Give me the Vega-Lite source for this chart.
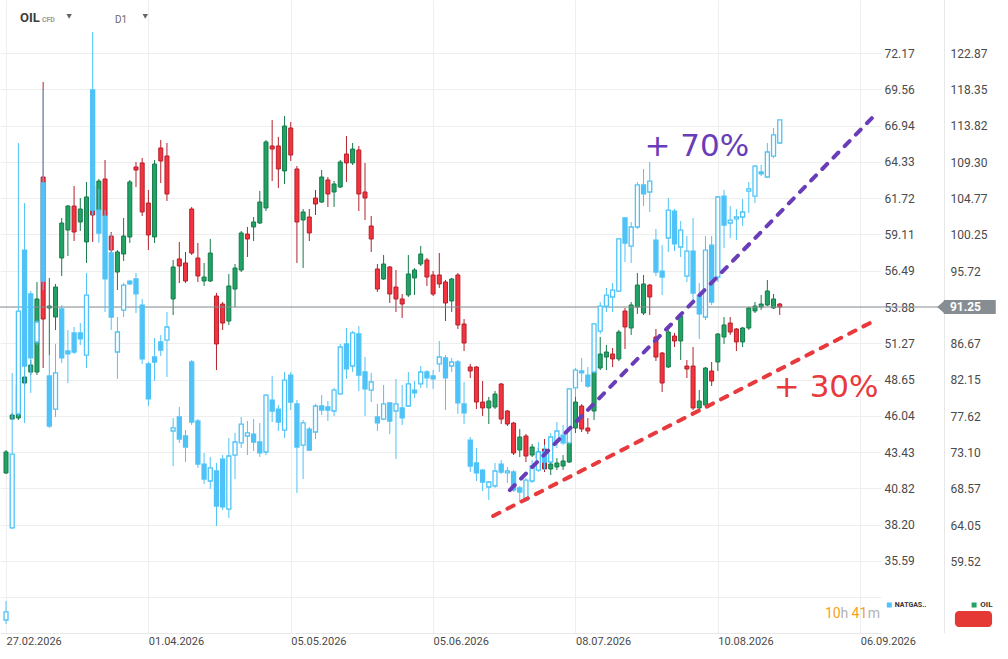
{
  "$schema": "https://vega.github.io/schema/vega-lite/v6.json",
  "width": 881,
  "height": 633,
  "autosize": {"type": "none"},
  "padding": {"left": 0, "top": 0, "right": 127, "bottom": 26},
  "background": "#ffffff",
  "config": {
    "view": {"stroke": null},
    "font": "Roboto",
    "axis": {"labelFont": "Roboto", "labelColor": "#4a4a4a", "title": null}
  },
  "datasets": {
    "oil": [
      {"t":0,"o":70.55,"h":73.42,"l":70.43,"c":73.17},
      {"t":1,"o":77.28,"h":78.03,"l":77.16,"c":77.78},
      {"t":2,"o":77.41,"h":82.15,"l":77.16,"c":81.52},
      {"t":3,"o":81.77,"h":83.39,"l":81.52,"c":82.52},
      {"t":4,"o":83.14,"h":84.64,"l":82.77,"c":84.02},
      {"t":5,"o":83.14,"h":94.37,"l":82.77,"c":92.25},
      {"t":6,"o":107.46,"h":119.31,"l":83.64,"c":89.75},
      {"t":7,"o":91.13,"h":94.87,"l":85.26,"c":91.37},
      {"t":8,"o":90.00,"h":94.12,"l":88.38,"c":93.74},
      {"t":9,"o":97.36,"h":102.35,"l":95.12,"c":101.72},
      {"t":10,"o":100.85,"h":103.97,"l":97.61,"c":103.84},
      {"t":11,"o":103.84,"h":106.34,"l":99.48,"c":100.60},
      {"t":12,"o":101.85,"h":104.84,"l":100.73,"c":103.47},
      {"t":13,"o":99.36,"h":106.84,"l":96.74,"c":104.97},
      {"t":14,"o":106.46,"h":108.33,"l":99.36,"c":102.72},
      {"t":15,"o":103.35,"h":107.21,"l":103.10,"c":106.96},
      {"t":16,"o":107.21,"h":109.58,"l":100.60,"c":102.60},
      {"t":17,"o":100.10,"h":100.60,"l":94.37,"c":98.36},
      {"t":18,"o":95.61,"h":98.36,"l":93.37,"c":98.11},
      {"t":19,"o":97.86,"h":102.35,"l":96.99,"c":100.10},
      {"t":20,"o":99.98,"h":107.09,"l":99.23,"c":106.84},
      {"t":21,"o":108.71,"h":109.33,"l":106.21,"c":108.33},
      {"t":22,"o":109.21,"h":109.83,"l":102.60,"c":103.10},
      {"t":23,"o":104.22,"h":105.84,"l":98.36,"c":100.23},
      {"t":24,"o":99.98,"h":109.58,"l":99.23,"c":109.08},
      {"t":25,"o":111.08,"h":112.07,"l":106.71,"c":109.46},
      {"t":26,"o":110.08,"h":111.70,"l":104.47,"c":105.34},
      {"t":27,"o":92.25,"h":97.11,"l":90.25,"c":96.24},
      {"t":28,"o":97.24,"h":99.36,"l":94.24,"c":96.36},
      {"t":29,"o":96.74,"h":98.11,"l":94.24,"c":94.49},
      {"t":30,"o":103.47,"h":103.72,"l":97.73,"c":97.98},
      {"t":31,"o":97.36,"h":99.23,"l":94.37,"c":95.12},
      {"t":32,"o":94.49,"h":96.74,"l":93.87,"c":94.99},
      {"t":33,"o":94.49,"h":99.73,"l":94.37,"c":97.98},
      {"t":34,"o":92.62,"h":93.00,"l":83.39,"c":86.64},
      {"t":35,"o":91.62,"h":91.87,"l":88.38,"c":89.25},
      {"t":36,"o":89.50,"h":95.37,"l":89.01,"c":93.87},
      {"t":37,"o":93.49,"h":96.61,"l":91.25,"c":96.11},
      {"t":38,"o":95.86,"h":100.73,"l":95.61,"c":100.48},
      {"t":39,"o":100.35,"h":101.23,"l":97.49,"c":99.73},
      {"t":40,"o":101.23,"h":102.47,"l":99.48,"c":101.85},
      {"t":41,"o":101.72,"h":105.72,"l":101.60,"c":104.34},
      {"t":42,"o":103.60,"h":112.07,"l":103.22,"c":111.83},
      {"t":43,"o":111.33,"h":114.57,"l":106.96,"c":110.95},
      {"t":44,"o":111.33,"h":112.45,"l":106.09,"c":108.46},
      {"t":45,"o":108.21,"h":115.07,"l":106.59,"c":113.82},
      {"t":46,"o":113.57,"h":114.32,"l":109.46,"c":110.20},
      {"t":47,"o":108.46,"h":108.83,"l":96.74,"c":101.85},
      {"t":48,"o":102.10,"h":103.47,"l":96.11,"c":103.10},
      {"t":49,"o":102.47,"h":103.47,"l":99.48,"c":100.48},
      {"t":50,"o":104.84,"h":105.84,"l":102.72,"c":104.09},
      {"t":51,"o":104.34,"h":108.33,"l":104.22,"c":107.46},
      {"t":52,"o":107.09,"h":107.46,"l":103.72,"c":105.34},
      {"t":53,"o":105.59,"h":106.96,"l":103.72,"c":106.59},
      {"t":54,"o":106.21,"h":109.58,"l":106.09,"c":109.33},
      {"t":55,"o":110.33,"h":112.57,"l":106.84,"c":109.21},
      {"t":56,"o":109.21,"h":111.70,"l":108.96,"c":110.95},
      {"t":57,"o":110.83,"h":111.33,"l":103.22,"c":105.34},
      {"t":58,"o":105.59,"h":109.21,"l":102.10,"c":104.84},
      {"t":59,"o":101.35,"h":102.60,"l":98.11,"c":99.73},
      {"t":60,"o":95.99,"h":96.61,"l":93.12,"c":93.49},
      {"t":61,"o":94.74,"h":97.73,"l":94.62,"c":96.61},
      {"t":62,"o":96.24,"h":96.36,"l":91.75,"c":92.87},
      {"t":63,"o":93.74,"h":95.86,"l":90.63,"c":92.25},
      {"t":64,"o":92.25,"h":92.87,"l":89.88,"c":91.62},
      {"t":65,"o":92.75,"h":97.73,"l":92.50,"c":95.37},
      {"t":66,"o":94.87,"h":96.11,"l":92.75,"c":95.86},
      {"t":67,"o":96.61,"h":98.86,"l":96.36,"c":97.86},
      {"t":68,"o":97.11,"h":97.36,"l":93.87,"c":94.99},
      {"t":69,"o":95.24,"h":95.74,"l":92.62,"c":92.87},
      {"t":70,"o":95.24,"h":97.98,"l":93.62,"c":94.12},
      {"t":71,"o":94.37,"h":94.62,"l":89.50,"c":91.75},
      {"t":72,"o":92.00,"h":94.87,"l":90.63,"c":94.74},
      {"t":73,"o":95.24,"h":95.49,"l":88.51,"c":89.01},
      {"t":74,"o":89.13,"h":89.75,"l":85.76,"c":86.76},
      {"t":75,"o":83.77,"h":84.14,"l":82.40,"c":83.27},
      {"t":76,"o":83.77,"h":83.89,"l":78.53,"c":79.40},
      {"t":77,"o":79.40,"h":82.02,"l":77.66,"c":78.66},
      {"t":78,"o":78.66,"h":80.03,"l":76.66,"c":79.53},
      {"t":79,"o":78.78,"h":80.78,"l":78.53,"c":80.40},
      {"t":80,"o":81.65,"h":81.77,"l":76.66,"c":77.28},
      {"t":81,"o":78.28,"h":78.41,"l":76.41,"c":76.66},
      {"t":82,"o":76.78,"h":76.91,"l":72.79,"c":73.04},
      {"t":83,"o":73.42,"h":76.04,"l":72.54,"c":75.04},
      {"t":84,"o":75.16,"h":75.41,"l":71.92,"c":72.67},
      {"t":85,"o":72.79,"h":74.17,"l":72.54,"c":73.79},
      {"t":86,"o":72.42,"h":73.67,"l":72.17,"c":73.17},
      {"t":87,"o":73.54,"h":74.79,"l":70.67,"c":71.05},
      {"t":88,"o":71.05,"h":72.42,"l":70.30,"c":71.67},
      {"t":89,"o":71.30,"h":72.42,"l":70.92,"c":71.80},
      {"t":90,"o":71.42,"h":72.79,"l":70.92,"c":72.05},
      {"t":91,"o":71.92,"h":74.67,"l":71.80,"c":74.42},
      {"t":92,"o":76.16,"h":80.03,"l":75.54,"c":79.40},
      {"t":93,"o":78.90,"h":79.15,"l":75.66,"c":76.04},
      {"t":94,"o":76.16,"h":77.41,"l":75.41,"c":75.79},
      {"t":95,"o":78.28,"h":83.89,"l":77.16,"c":83.14},
      {"t":96,"o":83.64,"h":87.51,"l":83.39,"c":85.39},
      {"t":97,"o":85.01,"h":86.51,"l":83.39,"c":85.64},
      {"t":98,"o":85.39,"h":86.14,"l":83.77,"c":84.77},
      {"t":99,"o":84.77,"h":88.38,"l":84.52,"c":88.13},
      {"t":100,"o":90.75,"h":91.13,"l":86.01,"c":88.76},
      {"t":101,"o":88.63,"h":91.87,"l":87.76,"c":91.50},
      {"t":102,"o":91.25,"h":95.49,"l":90.38,"c":93.99},
      {"t":103,"o":90.50,"h":95.24,"l":90.25,"c":94.12},
      {"t":104,"o":93.99,"h":94.12,"l":90.25,"c":92.50},
      {"t":105,"o":87.51,"h":88.51,"l":84.52,"c":85.01},
      {"t":106,"o":85.51,"h":85.64,"l":80.65,"c":81.77},
      {"t":107,"o":83.77,"h":88.38,"l":83.64,"c":88.13},
      {"t":108,"o":87.63,"h":88.01,"l":86.26,"c":87.01},
      {"t":109,"o":87.01,"h":90.25,"l":84.64,"c":90.13},
      {"t":110,"o":83.89,"h":84.64,"l":82.40,"c":83.52},
      {"t":111,"o":83.89,"h":86.26,"l":78.41,"c":78.66},
      {"t":112,"o":78.66,"h":80.90,"l":78.41,"c":79.53},
      {"t":113,"o":79.03,"h":83.77,"l":78.78,"c":83.64},
      {"t":114,"o":83.27,"h":84.39,"l":81.40,"c":82.02},
      {"t":115,"o":84.39,"h":88.01,"l":83.27,"c":87.88},
      {"t":116,"o":87.51,"h":90.00,"l":86.64,"c":89.01},
      {"t":117,"o":89.25,"h":90.00,"l":87.76,"c":88.13},
      {"t":118,"o":88.51,"h":88.63,"l":85.76,"c":86.89},
      {"t":119,"o":86.89,"h":88.76,"l":86.26,"c":88.63},
      {"t":120,"o":88.63,"h":91.25,"l":88.38,"c":91.13},
      {"t":121,"o":90.75,"h":91.87,"l":90.50,"c":91.37},
      {"t":122,"o":91.25,"h":92.75,"l":90.88,"c":91.62},
      {"t":123,"o":91.50,"h":94.62,"l":91.37,"c":93.25},
      {"t":124,"o":91.13,"h":92.87,"l":91.00,"c":92.25},
      {"t":125,"o":91.62,"h":91.75,"l":90.25,"c":91.25}
    ],
    "gas": [
      {"t":0,"o":31.34,"h":32.71,"l":31.05,"c":31.92},
      {"t":1,"o":37.97,"h":49.13,"l":37.89,"c":43.29},
      {"t":2,"o":46.18,"h":65.69,"l":46.03,"c":53.59},
      {"t":3,"o":57.98,"h":61.37,"l":45.53,"c":49.63},
      {"t":4,"o":54.82,"h":55.03,"l":47.69,"c":50.21},
      {"t":5,"o":51.36,"h":52.94,"l":51.14,"c":52.80},
      {"t":6,"o":62.81,"h":69.51,"l":55.10,"c":55.75},
      {"t":7,"o":48.91,"h":50.42,"l":45.17,"c":45.31},
      {"t":8,"o":46.53,"h":51.22,"l":45.96,"c":49.13},
      {"t":9,"o":53.74,"h":54.02,"l":49.85,"c":50.21},
      {"t":10,"o":50.71,"h":52.22,"l":48.41,"c":50.50},
      {"t":11,"o":52.01,"h":52.44,"l":50.50,"c":50.64},
      {"t":12,"o":52.01,"h":52.73,"l":51.14,"c":51.58},
      {"t":13,"o":50.42,"h":56.33,"l":49.49,"c":54.74},
      {"t":14,"o":69.51,"h":73.68,"l":60.50,"c":60.86},
      {"t":15,"o":60.86,"h":62.38,"l":58.49,"c":59.21},
      {"t":16,"o":60.43,"h":60.86,"l":53.52,"c":55.90},
      {"t":17,"o":57.77,"h":59.21,"l":52.22,"c":53.16},
      {"t":18,"o":50.64,"h":53.16,"l":48.70,"c":52.08},
      {"t":19,"o":53.66,"h":55.61,"l":53.16,"c":55.46},
      {"t":20,"o":55.75,"h":55.82,"l":55.46,"c":55.54},
      {"t":21,"o":55.90,"h":56.33,"l":53.45,"c":54.82},
      {"t":22,"o":54.02,"h":54.46,"l":49.78,"c":50.14},
      {"t":23,"o":49.78,"h":49.92,"l":46.75,"c":47.26},
      {"t":24,"o":50.28,"h":51.65,"l":48.55,"c":49.92},
      {"t":25,"o":51.36,"h":51.86,"l":50.35,"c":50.78},
      {"t":26,"o":51.50,"h":53.52,"l":48.84,"c":52.44},
      {"t":27,"o":44.95,"h":45.89,"l":42.43,"c":45.17},
      {"t":28,"o":45.96,"h":46.68,"l":44.09,"c":44.37},
      {"t":29,"o":44.59,"h":45.02,"l":42.72,"c":43.80},
      {"t":30,"o":49.92,"h":50.06,"l":45.38,"c":45.60},
      {"t":31,"o":45.67,"h":45.81,"l":42.29,"c":42.57},
      {"t":32,"o":42.57,"h":43.37,"l":41.13,"c":41.49},
      {"t":33,"o":41.35,"h":43.08,"l":40.77,"c":42.29},
      {"t":34,"o":42.07,"h":42.65,"l":38.11,"c":39.55},
      {"t":35,"o":42.93,"h":43.22,"l":39.26,"c":39.48},
      {"t":36,"o":39.33,"h":44.45,"l":38.69,"c":43.15},
      {"t":37,"o":43.22,"h":44.81,"l":41.49,"c":44.16},
      {"t":38,"o":44.09,"h":45.96,"l":43.73,"c":45.45},
      {"t":39,"o":44.59,"h":45.67,"l":43.22,"c":44.81},
      {"t":40,"o":44.73,"h":45.81,"l":43.51,"c":44.16},
      {"t":41,"o":44.16,"h":45.53,"l":43.08,"c":43.37},
      {"t":42,"o":43.44,"h":47.61,"l":43.22,"c":47.54},
      {"t":43,"o":47.18,"h":48.91,"l":45.60,"c":46.39},
      {"t":44,"o":46.53,"h":46.82,"l":44.95,"c":45.60},
      {"t":45,"o":45.02,"h":49.20,"l":44.45,"c":48.62},
      {"t":46,"o":48.98,"h":49.20,"l":46.46,"c":47.04},
      {"t":47,"o":46.90,"h":47.18,"l":40.49,"c":43.80},
      {"t":48,"o":43.94,"h":45.74,"l":41.49,"c":45.53},
      {"t":49,"o":45.09,"h":45.24,"l":43.51,"c":43.58},
      {"t":50,"o":44.88,"h":46.90,"l":44.37,"c":46.75},
      {"t":51,"o":46.75,"h":47.54,"l":46.10,"c":46.46},
      {"t":52,"o":46.68,"h":47.11,"l":45.67,"c":46.46},
      {"t":53,"o":46.39,"h":48.05,"l":46.03,"c":47.90},
      {"t":54,"o":47.62,"h":51.22,"l":47.54,"c":51.00},
      {"t":55,"o":51.22,"h":52.37,"l":48.70,"c":49.42},
      {"t":56,"o":49.63,"h":52.15,"l":49.20,"c":52.01},
      {"t":57,"o":51.94,"h":52.51,"l":47.83,"c":48.98},
      {"t":58,"o":49.20,"h":50.28,"l":46.03,"c":47.98},
      {"t":59,"o":47.90,"h":49.13,"l":47.04,"c":48.48},
      {"t":60,"o":45.96,"h":46.90,"l":44.95,"c":45.53},
      {"t":61,"o":45.81,"h":48.26,"l":45.74,"c":46.90},
      {"t":62,"o":46.97,"h":47.04,"l":44.73,"c":45.67},
      {"t":63,"o":46.39,"h":48.70,"l":42.93,"c":46.90},
      {"t":64,"o":46.61,"h":48.26,"l":45.38,"c":45.89},
      {"t":65,"o":46.75,"h":49.20,"l":46.68,"c":48.34},
      {"t":66,"o":47.90,"h":48.55,"l":47.33,"c":47.69},
      {"t":67,"o":48.34,"h":49.63,"l":48.05,"c":49.20},
      {"t":68,"o":49.20,"h":49.34,"l":48.05,"c":48.77},
      {"t":69,"o":48.91,"h":49.34,"l":47.98,"c":48.70},
      {"t":70,"o":49.78,"h":51.43,"l":49.20,"c":50.28},
      {"t":71,"o":50.21,"h":50.42,"l":46.46,"c":48.77},
      {"t":72,"o":49.63,"h":50.21,"l":49.20,"c":49.92},
      {"t":73,"o":49.92,"h":50.06,"l":46.18,"c":46.97},
      {"t":74,"o":46.90,"h":48.48,"l":45.45,"c":46.25},
      {"t":75,"o":44.30,"h":44.52,"l":42.00,"c":42.43},
      {"t":76,"o":42.65,"h":43.73,"l":41.35,"c":41.93},
      {"t":77,"o":42.14,"h":42.21,"l":40.63,"c":41.28},
      {"t":78,"o":40.92,"h":41.35,"l":39.98,"c":41.28},
      {"t":79,"o":40.99,"h":42.65,"l":40.85,"c":42.07},
      {"t":80,"o":42.57,"h":42.86,"l":41.85,"c":42.00},
      {"t":81,"o":41.93,"h":42.36,"l":41.21,"c":42.07},
      {"t":82,"o":42.00,"h":42.14,"l":40.56,"c":40.70},
      {"t":83,"o":40.85,"h":40.99,"l":39.84,"c":40.56},
      {"t":84,"o":39.98,"h":41.57,"l":39.84,"c":41.42},
      {"t":85,"o":41.35,"h":42.86,"l":41.21,"c":42.43},
      {"t":86,"o":42.14,"h":44.16,"l":42.00,"c":43.44},
      {"t":87,"o":43.44,"h":43.94,"l":42.14,"c":42.72},
      {"t":88,"o":42.72,"h":44.81,"l":42.65,"c":44.52},
      {"t":89,"o":44.23,"h":45.60,"l":43.73,"c":44.95},
      {"t":90,"o":44.66,"h":45.38,"l":43.94,"c":44.09},
      {"t":91,"o":44.09,"h":48.05,"l":44.01,"c":47.98},
      {"t":92,"o":48.05,"h":49.49,"l":47.40,"c":49.34},
      {"t":93,"o":49.27,"h":50.21,"l":48.48,"c":49.13},
      {"t":94,"o":48.98,"h":49.56,"l":48.05,"c":48.19},
      {"t":95,"o":49.20,"h":52.73,"l":49.13,"c":52.66},
      {"t":96,"o":52.15,"h":54.24,"l":51.94,"c":53.95},
      {"t":97,"o":53.95,"h":55.25,"l":53.52,"c":54.74},
      {"t":98,"o":54.60,"h":55.61,"l":53.52,"c":55.10},
      {"t":99,"o":55.03,"h":58.85,"l":54.96,"c":58.78},
      {"t":100,"o":60.29,"h":60.36,"l":57.12,"c":58.49},
      {"t":101,"o":58.27,"h":60.00,"l":57.05,"c":59.64},
      {"t":102,"o":59.64,"h":62.88,"l":59.50,"c":62.67},
      {"t":103,"o":62.67,"h":63.82,"l":61.15,"c":62.02},
      {"t":104,"o":62.16,"h":64.32,"l":60.72,"c":62.95},
      {"t":105,"o":58.70,"h":59.50,"l":56.11,"c":56.40},
      {"t":106,"o":56.47,"h":58.34,"l":54.74,"c":56.04},
      {"t":107,"o":58.85,"h":61.73,"l":57.84,"c":60.86},
      {"t":108,"o":60.79,"h":60.94,"l":57.91,"c":58.42},
      {"t":109,"o":58.20,"h":60.07,"l":57.48,"c":59.42},
      {"t":110,"o":56.11,"h":58.99,"l":55.68,"c":57.91},
      {"t":111,"o":57.91,"h":60.29,"l":54.17,"c":54.89},
      {"t":112,"o":54.74,"h":55.61,"l":51.58,"c":53.38},
      {"t":113,"o":53.16,"h":58.99,"l":52.94,"c":57.98},
      {"t":114,"o":58.34,"h":58.99,"l":54.02,"c":54.24},
      {"t":115,"o":56.04,"h":61.87,"l":55.68,"c":61.80},
      {"t":116,"o":61.87,"h":62.31,"l":58.13,"c":59.78},
      {"t":117,"o":59.93,"h":61.15,"l":58.85,"c":60.14},
      {"t":118,"o":60.22,"h":60.94,"l":58.70,"c":60.36},
      {"t":119,"o":60.36,"h":61.66,"l":59.71,"c":60.72},
      {"t":120,"o":62.23,"h":62.88,"l":60.65,"c":62.38},
      {"t":121,"o":61.87,"h":64.11,"l":61.37,"c":64.03},
      {"t":122,"o":63.60,"h":64.11,"l":63.31,"c":63.46},
      {"t":123,"o":63.24,"h":65.69,"l":63.17,"c":65.04},
      {"t":124,"o":64.75,"h":66.77,"l":64.61,"c":66.27},
      {"t":125,"o":65.69,"h":67.35,"l":65.62,"c":67.35}
    ],
    "trend70": [{"t": 81.4, "v": 40.70}, {"t": 139.9, "v": 67.49}],
    "trend30": [{"t": 78.7, "v": 38.83}, {"t": 139.9, "v": 52.80}]
  },
  "layer": [
    {
      "data": {"name": "oil"},
      "layer": [
        {
          "mark": {"type": "rule", "strokeWidth": 1},
          "encoding": {
            "x": {
              "field": "t", "type": "quantitative",
              "scale": {"domain": [-0.97, 141.36], "nice": false, "zero": false, "padding": 0},
              "axis": {
                "title": null,
                "orient": "bottom",
                "values": [0, 23, 46, 69, 92, 115, 138],
                "labelExpr": "datum.value == 0 ? '27.02.2026' : datum.value == 23 ? '01.04.2026' : datum.value == 46 ? '05.05.2026' : datum.value == 69 ? '05.06.2026' : datum.value == 92 ? '08.07.2026' : datum.value == 115 ? '10.08.2026' : '06.09.2026'",
                "labelAlign": "left",
                "labelPadding": 2,
                "labelFontSize": 11,
                "labelFlush": false,
                "labelOverlap": false,
                "labelBound": false,
                "ticks": false,
                "grid": true,
                "gridColor": "#eeeeee",
                "domain": true,
                "domainColor": "#e8e8e8"
              }
            },
            "y": {
              "field": "l", "type": "quantitative",
              "scale": {"domain": [50.60, 129.53], "nice": false, "zero": false},
              "axis": {
                "title": null,
                "orient": "right",
                "offset": 63,
                "values": [59.52, 64.05, 68.57, 73.10, 77.62, 82.15, 86.67, 95.72, 100.25, 104.77, 109.30, 113.82, 118.35, 122.87],
                "format": ".2f",
                "labelFontSize": 12,
                "labelPadding": 6,
                "ticks": false,
                "grid": false,
                "domain": true,
                "domainColor": "#e8e8e8"
              }
            },
            "y2": {"field": "h"},
            "color": {"condition": {"test": "datum.c >= datum.o", "value": "#167a4a"}, "value": "#b3202b"}
          }
        },
        {
          "mark": {"type": "bar", "width": 4, "strokeWidth": 1},
          "encoding": {
            "x": {"field": "t", "type": "quantitative", "axis": {"title": null}},
            "y": {"field": "o", "type": "quantitative", "axis": {"title": null}},
            "y2": {"field": "c"},
            "fill": {"condition": {"test": "datum.c >= datum.o", "value": "#21a366"}, "value": "#f4333f"},
            "stroke": {"condition": {"test": "datum.c >= datum.o", "value": "#167a4a"}, "value": "#b3202b"}
          }
        },
        {
          "data": {"values": [{}]},
          "mark": {"type": "rule", "color": "#868e93", "strokeWidth": 1},
          "encoding": {
            "x": {"datum": -0.97, "type": "quantitative", "axis": {"title": null}},
            "x2": {"datum": 151.5},
            "y": {"datum": 91.25, "type": "quantitative", "axis": {"title": null}}
          }
        },
        {
          "data": {"values": [{}]},
          "mark": {"type": "rect", "color": "#868e93"},
          "encoding": {
            "x": {"datum": 151.5, "type": "quantitative", "axis": {"title": null}},
            "x2": {"datum": 159.9},
            "y": {"datum": 90.38, "type": "quantitative", "axis": {"title": null}},
            "y2": {"datum": 92.12}
          }
        },
        {
          "data": {"values": [{}]},
          "mark": {"type": "point", "shape": "M 1 -1 L -0.15 0 L 1 1 Z", "filled": true, "opacity": 1, "color": "#868e93", "size": 196},
          "encoding": {
            "x": {"datum": 150.6, "type": "quantitative", "axis": {"title": null}},
            "y": {"datum": 91.25, "type": "quantitative", "axis": {"title": null}}
          }
        },
        {
          "data": {"values": [{}]},
          "mark": {"type": "text", "text": "91.25", "align": "left", "baseline": "middle", "font": "Roboto", "fontSize": 12, "fontWeight": "bold", "color": "#ffffff"},
          "encoding": {
            "x": {"datum": 152.5, "type": "quantitative", "axis": {"title": null}},
            "y": {"datum": 91.25, "type": "quantitative", "axis": {"title": null}}
          }
        }
      ]
    },
    {
      "data": {"name": "gas"},
      "layer": [
        {
          "mark": {"type": "rule", "strokeWidth": 1, "color": "#4fc3f7"},
          "encoding": {
            "x": {"field": "t", "type": "quantitative", "axis": {"title": null}, "scale": {"domain": [-0.97, 141.36], "nice": false, "zero": false, "padding": 0}},
            "y": {
              "field": "l", "type": "quantitative",
              "scale": {"domain": [30.405, 75.987], "nice": false, "zero": false},
              "axis": {
                "title": null,
                "orient": "right",
                "offset": 0,
                "values": [32.98, 35.59, 38.20, 40.82, 43.43, 46.04, 48.65, 51.27, 53.88, 56.49, 59.11, 61.72, 64.33, 66.94, 69.56, 72.17],
                "labelExpr": "datum.value < 34 ? '' : format(datum.value, '.2f')",
                "labelFontSize": 12,
                "labelPadding": 3,
                "ticks": false,
                "grid": true,
                "gridColor": "#eeeeee",
                "domain": false
              }
            },
            "y2": {"field": "h"}
          }
        },
        {
          "mark": {"type": "bar", "width": 4, "strokeWidth": 1.3, "stroke": "#4fc3f7"},
          "encoding": {
            "x": {"field": "t", "type": "quantitative", "axis": {"title": null}},
            "y": {"field": "o", "type": "quantitative", "axis": {"title": null}},
            "y2": {"field": "c"},
            "fill": {"condition": {"test": "datum.c > datum.o", "value": "#ffffff"}, "value": "#4fc3f7"}
          }
        },
        {
          "data": {"name": "trend70"},
          "mark": {"type": "line", "color": "#6a3db8", "strokeWidth": 4, "strokeDash": [7, 9], "strokeCap": "round"},
          "encoding": {
            "x": {"field": "t", "type": "quantitative", "axis": {"title": null}},
            "y": {"field": "v", "type": "quantitative", "axis": {"title": null}}
          }
        },
        {
          "data": {"name": "trend30"},
          "mark": {"type": "line", "color": "#e8393c", "strokeWidth": 4, "strokeDash": [7, 9], "strokeCap": "round"},
          "encoding": {
            "x": {"field": "t", "type": "quantitative", "axis": {"title": null}},
            "y": {"field": "v", "type": "quantitative", "axis": {"title": null}}
          }
        },
        {
          "data": {"values": [{}]},
          "mark": {"type": "text", "text": "+ 70%", "font": "DejaVu Sans", "fontSize": 31, "color": "#6a3db8", "align": "center", "baseline": "middle"},
          "encoding": {
            "x": {"datum": 111.6, "type": "quantitative", "axis": {"title": null}},
            "y": {"datum": 65.40, "type": "quantitative", "axis": {"title": null}}
          }
        },
        {
          "data": {"values": [{}]},
          "mark": {"type": "text", "text": "+ 30%", "font": "DejaVu Sans", "fontSize": 31, "color": "#e8393c", "align": "center", "baseline": "middle"},
          "encoding": {
            "x": {"datum": 132.5, "type": "quantitative", "axis": {"title": null}},
            "y": {"datum": 48.05, "type": "quantitative", "axis": {"title": null}}
          }
        },
        {
          "data": {"values": [{}]},
          "mark": {"type": "text", "text": "OIL", "font": "Roboto", "fontSize": 13, "fontWeight": "bold", "color": "#3d3d3d", "align": "left", "baseline": "middle"},
          "encoding": {
            "x": {"datum": 2.26, "type": "quantitative", "axis": {"title": null}},
            "y": {"datum": 74.69, "type": "quantitative", "axis": {"title": null}}
          }
        },
        {
          "data": {"values": [{}]},
          "mark": {"type": "text", "text": "CFD", "font": "Roboto", "fontSize": 7, "fontWeight": "bold", "color": "#999999", "align": "left", "baseline": "middle"},
          "encoding": {
            "x": {"datum": 5.8, "type": "quantitative", "axis": {"title": null}},
            "y": {"datum": 74.58, "type": "quantitative", "axis": {"title": null}}
          }
        },
        {
          "data": {"values": [{}]},
          "mark": {"type": "text", "text": "D1", "font": "Roboto", "fontSize": 10, "color": "#6a6a6a", "align": "left", "baseline": "middle"},
          "encoding": {
            "x": {"datum": 17.6, "type": "quantitative", "axis": {"title": null}},
            "y": {"datum": 74.55, "type": "quantitative", "axis": {"title": null}}
          }
        },
        {
          "data": {"values": [{"k": "a", "t": 10.2}, {"k": "b", "t": 22.5}]},
          "mark": {"type": "point", "shape": "triangle-down", "filled": true, "opacity": 1, "color": "#666666", "size": 30},
          "encoding": {
            "x": {"field": "t", "type": "quantitative", "axis": {"title": null}},
            "y": {"datum": 74.80, "type": "quantitative", "axis": {"title": null}}
          }
        },
        {
          "data": {"values": [{}]},
          "mark": {"type": "point", "shape": "square", "filled": true, "opacity": 1, "color": "#4fc3f7", "size": 25},
          "encoding": {
            "x": {"datum": 142.7, "type": "quantitative", "axis": {"title": null}},
            "y": {"datum": 32.42, "type": "quantitative", "axis": {"title": null}}
          }
        },
        {
          "data": {"values": [{}]},
          "mark": {"type": "text", "text": "NATGAS..", "font": "Roboto", "fontSize": 7, "fontWeight": "bold", "color": "#333333", "align": "left", "baseline": "middle"},
          "encoding": {
            "x": {"datum": 143.6, "type": "quantitative", "axis": {"title": null}},
            "y": {"datum": 32.42, "type": "quantitative", "axis": {"title": null}}
          }
        },
        {
          "data": {"values": [{}]},
          "mark": {"type": "point", "shape": "square", "filled": true, "opacity": 1, "color": "#21a366", "size": 25},
          "encoding": {
            "x": {"datum": 156.4, "type": "quantitative", "axis": {"title": null}},
            "y": {"datum": 32.42, "type": "quantitative", "axis": {"title": null}}
          }
        },
        {
          "data": {"values": [{}]},
          "mark": {"type": "text", "text": "OIL", "font": "Roboto", "fontSize": 8, "fontWeight": "bold", "color": "#333333", "align": "left", "baseline": "middle"},
          "encoding": {
            "x": {"datum": 157.4, "type": "quantitative", "axis": {"title": null}},
            "y": {"datum": 32.42, "type": "quantitative", "axis": {"title": null}}
          }
        },
        {
          "data": {"values": [{}]},
          "mark": {"type": "rect", "color": "#e53935", "cornerRadius": 4},
          "encoding": {
            "x": {"datum": 153.3, "type": "quantitative", "axis": {"title": null}},
            "x2": {"datum": 159.3},
            "y": {"datum": 31.99, "type": "quantitative", "axis": {"title": null}},
            "y2": {"datum": 30.84}
          }
        },
        {
          "data": {"values": [{}]},
          "mark": {"type": "text", "text": "10", "font": "Roboto", "fontSize": 14, "color": "#f5a31a", "align": "left", "baseline": "middle"},
          "encoding": {
            "x": {"datum": 132.3, "type": "quantitative", "axis": {"title": null}},
            "y": {"datum": 31.77, "type": "quantitative", "axis": {"title": null}}
          }
        },
        {
          "data": {"values": [{}]},
          "mark": {"type": "text", "text": "h", "font": "Roboto", "fontSize": 14, "color": "#b3b3b3", "align": "left", "baseline": "middle"},
          "encoding": {
            "x": {"datum": 134.8, "type": "quantitative", "axis": {"title": null}},
            "y": {"datum": 31.77, "type": "quantitative", "axis": {"title": null}}
          }
        },
        {
          "data": {"values": [{}]},
          "mark": {"type": "text", "text": "41", "font": "Roboto", "fontSize": 14, "color": "#f5a31a", "align": "left", "baseline": "middle"},
          "encoding": {
            "x": {"datum": 136.6, "type": "quantitative", "axis": {"title": null}},
            "y": {"datum": 31.77, "type": "quantitative", "axis": {"title": null}}
          }
        },
        {
          "data": {"values": [{}]},
          "mark": {"type": "text", "text": "m", "font": "Roboto", "fontSize": 14, "color": "#b3b3b3", "align": "left", "baseline": "middle"},
          "encoding": {
            "x": {"datum": 139.2, "type": "quantitative", "axis": {"title": null}},
            "y": {"datum": 31.77, "type": "quantitative", "axis": {"title": null}}
          }
        }
      ]
    }
  ],
  "resolve": {"scale": {"y": "independent"}}
}
